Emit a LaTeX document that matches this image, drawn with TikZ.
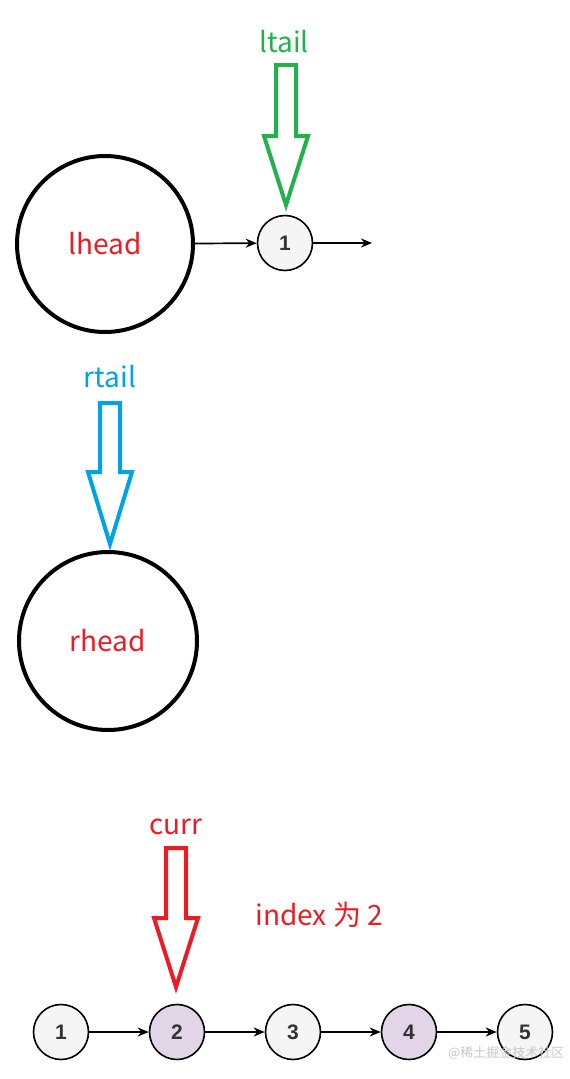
\documentclass[tikz,border=0pt]{standalone}
\usepackage{fontspec}
\setmainfont{Noto Sans CJK SC}
\newfontfamily\numfont{Liberation Sans}
\usetikzlibrary{arrows.meta}
\usetikzlibrary{positioning}

\definecolor{tailgreen}{RGB}{34,177,76}
\definecolor{tailblue}{RGB}{0,162,232}
\definecolor{ptrred}{RGB}{237,28,36}
\definecolor{nodegray}{RGB}{245,245,245}
\definecolor{nodepurple}{RGB}{225,213,231}

\tikzset{
  headnode/.style={circle, draw=black, line width=4pt, minimum size=176pt, inner sep=0pt,
    text=ptrred, font=\fontsize{28}{32}\selectfont},
  listnode/.style={circle, draw=black, line width=1.6pt, minimum size=55pt, inner sep=0pt,
    text=black!80, font=\numfont\bfseries\fontsize{21}{24}\selectfont},
  link/.style={-{Stealth[length=11pt,width=9pt]}, line width=1.7pt},
  pointer/.style={line width=4pt, line join=miter},
  ptrlabel/.style={font=\fontsize{28}{32}\selectfont},
}

% hollow pointer arrow: colour, x, top, head base, tip
\newcommand{\ptrarrow}[5]{%
  \draw[pointer, #1] (#2-10,#3) -- (#2+10,#3) -- (#2+10,#4) -- (#2+22,#4)
    -- (#2,#5) -- (#2-22,#4) -- (#2-10,#4) -- cycle;}

\begin{document}
\begin{tikzpicture}[x=1pt, y=-1pt]
  \useasboundingbox (0,0) rectangle (570,1079);

  % left part
  \node[headnode] (lhead) at (105,244) {lhead};
  \node[listnode, fill=nodegray] (l1) at (285,243) {1};
  \coordinate (lend) at (372,243);
  \draw[link] (lhead) -- (l1);
  \draw[link] (l1) -- (lend);
  \node[ptrlabel, text=tailgreen] (ltail) at (284,42) {ltail};
  \ptrarrow{tailgreen}{286}{65}{136}{205}

  % right part
  \node[ptrlabel, text=tailblue] (rtail) at (110,377) {rtail};
  \ptrarrow{tailblue}{110}{403}{472}{544}
  \node[headnode, minimum size=178pt] (rhead) at (108,641) {rhead};

  % list with curr
  \node[ptrlabel, text=ptrred] (curr) at (176,827) {curr};
  \ptrarrow{ptrred}{176}{848}{918}{987}
  \node[ptrlabel, text=ptrred, anchor=west] (idx) at (252,915) {index 为 2};
  \foreach \i/\c in {1/nodegray, 2/nodepurple, 3/nodegray, 4/nodepurple, 5/nodegray}
    \node[listnode, fill=\c] (b\i) at (61+116*\i-116,1032) {\i};
  \foreach \a/\b in {1/2, 2/3, 3/4, 4/5}
    \draw[link] (b\a) -- (b\b);

  \node[text=black!22, font=\fontsize{13}{15}\selectfont, anchor=east] (mark) at (568,1053) {@稀土掘金技术社区};
\end{tikzpicture}
\end{document}
